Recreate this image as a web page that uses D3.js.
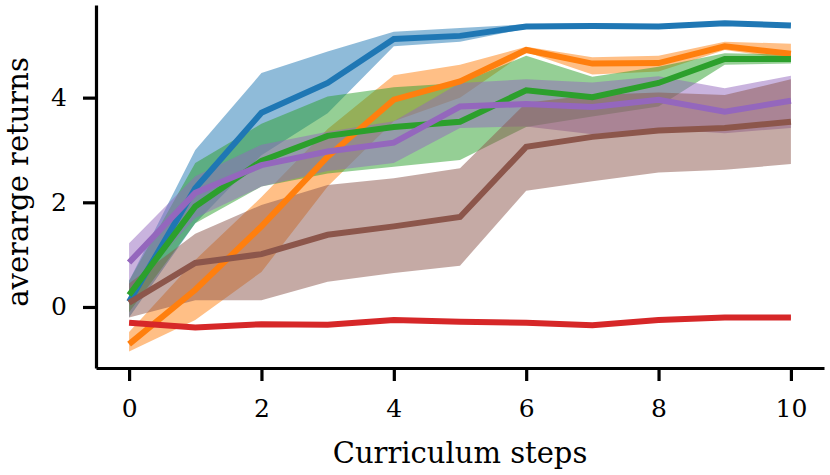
<!DOCTYPE html>
<html>
<head>
<meta charset="utf-8">
<script src="https://cdn.jsdelivr.net/npm/d3@7"></script>
<style>
  body { margin: 0; background: #fff; }
  text { font-family: "DejaVu Serif", serif; fill: #000; }
</style>
</head>
<body>
<div id="plot"></div>
<script>
// curriculum steps on the x axis
const steps = [0, 1, 2, 3, 4, 5, 6, 7, 8, 9, 10];

// mean returns per series
const meanBlue   = [0.10, 2.27, 3.71, 4.28, 5.12, 5.18, 5.36, 5.37, 5.36, 5.42, 5.38];
const meanOrange = [-0.71, 0.33, 1.54, 2.87, 3.96, 4.31, 4.91, 4.65, 4.66, 4.98, 4.84];
const meanGreen  = [0.23, 1.92, 2.79, 3.27, 3.44, 3.54, 4.14, 4.01, 4.28, 4.74, 4.74];
const meanRed    = [-0.30, -0.39, -0.33, -0.34, -0.25, -0.28, -0.30, -0.35, -0.25, -0.20, -0.20];
const meanPurple = [0.85, 2.18, 2.71, 2.97, 3.14, 3.83, 3.88, 3.82, 3.96, 3.73, 3.94];
const meanBrown  = [0.08, 0.84, 1.01, 1.38, 1.54, 1.72, 3.06, 3.25, 3.37, 3.42, 3.54];

// lower / upper edges of the shaded bands
const lowBlue   = [-0.20, 1.60, 2.90, 3.70, 4.98, 5.07, 5.32, 5.34, 5.33, 5.38, 5.36];
const highBlue  = [0.50, 3.00, 4.47, 4.88, 5.26, 5.33, 5.40, 5.42, 5.40, 5.46, 5.42];
const lowOrange  = [-0.85, -0.25, 0.67, 2.30, 3.55, 4.00, 4.87, 4.44, 4.50, 4.91, 4.73];
const highOrange = [-0.48, 0.90, 2.10, 3.40, 4.43, 4.63, 4.97, 4.77, 4.80, 5.07, 5.03];
const lowGreen  = [-0.10, 1.60, 2.30, 2.55, 2.68, 2.81, 3.44, 3.64, 3.83, 4.63, 4.65];
const highGreen = [0.50, 2.75, 3.50, 4.02, 4.20, 4.28, 4.80, 4.40, 4.59, 4.85, 4.82];
const lowRed  = [-0.33, -0.42, -0.36, -0.37, -0.28, -0.31, -0.33, -0.38, -0.28, -0.23, -0.23];
const highRed = [-0.27, -0.36, -0.30, -0.31, -0.22, -0.25, -0.27, -0.32, -0.22, -0.17, -0.17];
const lowPurple  = [0.30, 1.70, 2.30, 2.60, 2.75, 3.42, 3.45, 3.30, 3.40, 3.32, 3.42];
const highPurple = [1.22, 2.50, 3.10, 3.35, 3.55, 4.28, 4.35, 4.29, 4.41, 4.18, 4.42];
const lowBrown  = [-0.20, 0.13, 0.13, 0.48, 0.65, 0.79, 2.22, 2.40, 2.57, 2.62, 2.73];
const highBrown = [0.45, 1.40, 1.95, 2.33, 2.46, 2.65, 3.90, 4.05, 4.10, 4.05, 4.35];

const xTicks = [0, 2, 4, 6, 8, 10];
const yTicks = [0, 2, 4];

const colors = ["#1f77b4", "#ff7f0e", "#2ca02c", "#d62728", "#9467bd", "#8c564b"];

const series = [
  {mean: meanBlue,   low: lowBlue,   high: highBlue},
  {mean: meanOrange, low: lowOrange, high: highOrange},
  {mean: meanGreen,  low: lowGreen,  high: highGreen},
  {mean: meanRed,    low: lowRed,    high: highRed},
  {mean: meanPurple, low: lowPurple, high: highPurple},
  {mean: meanBrown,  low: lowBrown,  high: highBrown}
];

const w = 830, h = 475;
var margin = {top: 5, right: 6, bottom: 107, left: 96},
    innerWidth = w - margin.left - margin.right,
    innerHeight = h - margin.top - margin.bottom;

var svg = d3.select("div#plot")
  .append("svg")
    .attr("width", w)
    .attr("height", h)
  .append("g")
    .attr("transform", `translate (${margin.left}, ${margin.top})`);

var xScale = d3.scaleLinear().domain([-0.5, 10.5]).range([0, innerWidth]);
var yScale = d3.scaleLinear().domain([-1.166, 5.77]).range([innerHeight, 0]);

// bands
var area = d3.area()
  .x((d, i) => xScale(steps[i]))
  .y0(d => yScale(d[0]))
  .y1(d => yScale(d[1]));

svg.append("g")
  .selectAll("path")
  .data(series)
  .enter().append("path")
    .attr("d", s => area(s.low.map((v, i) => [v, s.high[i]])))
    .attr("fill", (s, i) => colors[i])
    .attr("fill-opacity", 0.5);

// mean lines
var line = d3.line()
  .x((d, i) => xScale(steps[i]))
  .y(d => yScale(d));

svg.append("g")
  .selectAll("path")
  .data(series)
  .enter().append("path")
    .attr("d", s => line(s.mean))
    .attr("fill", "none")
    .attr("stroke", (s, i) => colors[i])
    .attr("stroke-width", 6)
    .attr("stroke-linejoin", "miter");

// axes
var xAxis = svg.append("g")
  .attr("transform", `translate (0, ${innerHeight})`)
  .call(d3.axisBottom(xScale).tickValues(xTicks).tickFormat(d3.format("d"))
    .tickSize(13).tickPadding(18).tickSizeOuter(0));

var yAxis = svg.append("g")
  .call(d3.axisLeft(yScale).tickValues(yTicks).tickFormat(d3.format("d"))
    .tickSize(13).tickPadding(16).tickSizeOuter(0));

[xAxis, yAxis].forEach(a => {
  a.attr("font-size", null).attr("font-family", null);
  a.select(".domain").attr("stroke-width", 3.2).attr("stroke", "#000");
  a.selectAll(".tick line").attr("stroke-width", 3.2).attr("stroke", "#000");
  a.selectAll(".tick text").style("font-size", "25px");
});

svg.append("text")
  .attr("text-anchor", "middle")
  .style("font-size", "29px")
  .attr("x", innerWidth / 2)
  .attr("y", innerHeight + 95)
  .text("Curriculum steps");

svg.append("text")
  .attr("transform", "rotate(-90)")
  .attr("text-anchor", "middle")
  .style("font-size", "29px")
  .attr("x", -177)
  .attr("y", -68)
  .text("averarge returns");
</script>
</body>
</html>
